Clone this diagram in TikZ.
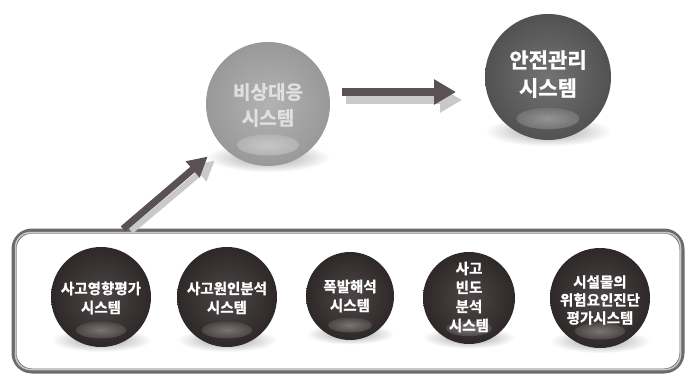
\documentclass[tikz,border=0pt]{standalone}
\usepackage{fontspec}
\usetikzlibrary{arrows.meta,calc}
\newfontfamily\kr{Noto Sans CJK KR}[UprightFont={* Bold},FakeBold=1.2]
\definecolor{balldark}{HTML}{2E2828}
\definecolor{ballmid}{HTML}{4E4646}
\definecolor{ballhi}{HTML}{7A7474}
\definecolor{arrowcol}{HTML}{5A5252}
\definecolor{arrowshadow}{HTML}{C9C9C9}
\definecolor{boxline}{HTML}{6E6A6A}
\newcommand\myshadow[3]{%
  \shade[inner color=black!38, outer color=white] (#1,#2+0.86*#3) ellipse ({1.0*#3} and {0.24*#3});}
\newcommand\myorb[6]{% x y r inner outer highlight
  \shade[inner color=#4, outer color=#5] (#1,#2) circle (#3);
  \shade[inner color=#6, outer color=#4] (#1,#2+0.66*#3) ellipse ({0.5*#3} and {0.17*#3});}
\begin{document}
\begin{tikzpicture}[x=1pt,y=-1pt,
  label/.style={inner sep=0pt, align=center, text=white,
    font=\kr\fontsize{14.5}{19}\selectfont},
  biglabel/.style={inner sep=0pt, align=center,
    font=\kr\fontsize{21}{28}\selectfont},
  arr/.style={line width=8pt, arrowcol, -{Triangle[length=22pt,width=24pt]}},
  arrsh/.style={line width=8pt, arrowshadow, -{Triangle[length=22pt,width=24pt]}},
  frame/.style={draw=boxline, line width=5pt, rounded corners=18pt,
    minimum width=668pt, minimum height=140pt, inner sep=0pt}]
\useasboundingbox (0,0) rectangle (690,386);
\fill[white] (0,0) rectangle (690,386);

% frame
\node[frame] (box) at (348,301) {};
\draw[black!22, line width=1.5pt, rounded corners=15pt] (15.5,232.5) rectangle (680.5,369.5);

% big spheres
\myshadow{268}{104}{62}
\myorb{268}{104}{62}{black!30}{black!40}{black!22}
\myshadow{548}{77}{63}
\myorb{548}{77}{63}{black!55}{black!68}{black!42}

\node[biglabel, text=black!12, font=\kr\fontsize{19}{26}\selectfont,
  minimum size=124pt, circle] (vs) at (268,105) {비상대응\\시스템};
\node[biglabel, text=white, minimum size=126pt, circle] (safe) at (548,74) {안전관리\\시스템};

% small spheres
\myshadow{101}{297}{50}
\myorb{101}{297}{50}{ballmid}{balldark}{ballhi}
\myshadow{227}{297}{50}
\myorb{227}{297}{50}{ballmid}{balldark}{ballhi}
\myshadow{350}{296}{44}
\myorb{350}{296}{44}{ballmid}{balldark}{ballhi}
\myshadow{469}{298}{46}
\myorb{469}{298}{46}{ballmid}{balldark}{ballhi}
\myshadow{600}{298}{50}
\myorb{600}{298}{50}{ballmid}{balldark}{ballhi}

\node[label] (s1) at (101,298) {사고영향평가\\시스템};
\node[label] (s2) at (227,298) {사고원인분석\\시스템};
\node[label] (s3) at (350,296) {폭발해석\\시스템};
\node[label] (s4) at (469,297) {사고\\빈도\\분석\\시스템};
\node[label, font=\kr\fontsize{14.5}{18}\selectfont] (s5) at (600,300) {시설물의\\위험요인진단\\평가시스템};

% arrows
\coordinate (a0) at (123,229);
\coordinate (a0s) at (131,231);
\coordinate (h0) at (342,92);
\coordinate (h1) at (456,92);
\coordinate (h0s) at (346,100);
\coordinate (h1s) at (462,100);
\draw[arrsh, line width=6pt, -{Triangle[length=20pt,width=20pt]}] (a0s) -- ($(vs)+(8,4)$) [shorten >=80pt];
\draw[arr, line width=7pt, -{Triangle[length=20pt,width=20pt]}, shorten >=17pt] (a0) -- (vs);
\draw[arrsh] (h0s) -- (h1s);
\draw[arr] (h0) -- (h1);
\end{tikzpicture}
\end{document}
